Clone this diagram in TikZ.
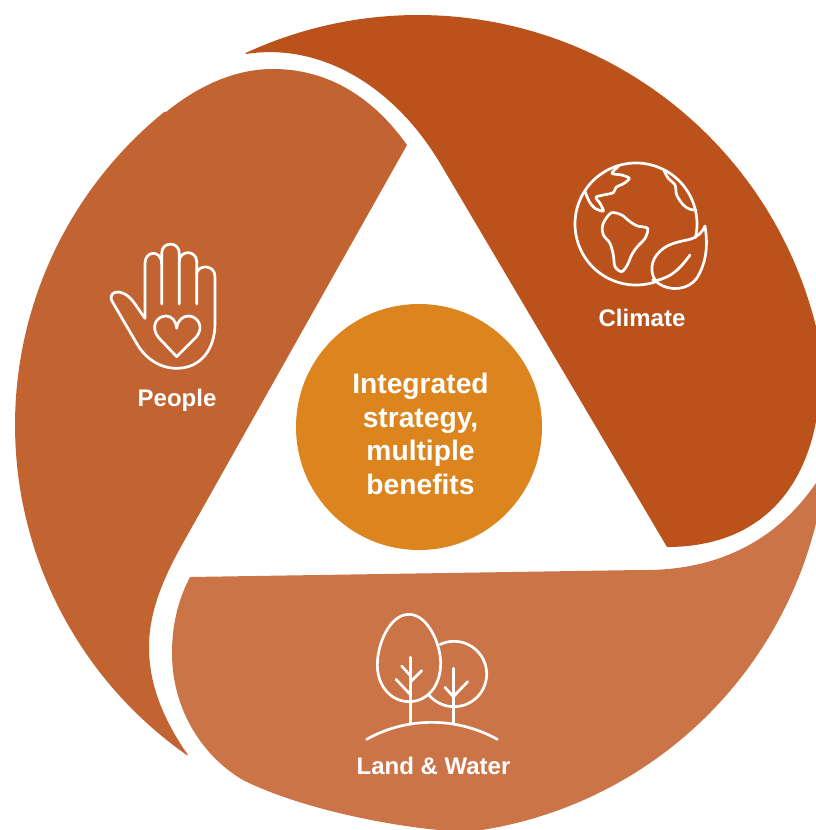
\documentclass[tikz,border=0pt]{standalone}
\usepackage{fontspec}
\setmainfont{Liberation Sans}
\definecolor{climatecol}{HTML}{BC521B}
\definecolor{peoplecol}{HTML}{C26332}
\definecolor{landcol}{HTML}{CB7448}
\definecolor{hubcol}{HTML}{DC841E}
\tikzset{
  icon/.style={draw=white,line width=2.7pt,line cap=round,line join=round},
  lab/.style={text=white,font=\bfseries\fontsize{24}{28}\selectfont,inner sep=0pt},
  hubtext/.style={text=white,font=\bfseries\fontsize{28.2}{33.5}\selectfont,align=center,inner sep=0pt},
  zoomed/.style={x=0.33333pt,y=-0.33333pt}
}
\begin{document}
\begin{tikzpicture}[x=1pt,y=-1pt]
\useasboundingbox (0,0) rectangle (816,830);
\clip (0,0) rectangle (816,830);
% Climate
\fill[climatecol] plot[domain=-114.9:-8,samples=90] ({418+410*cos(\x)},{425+410*sin(\x)})
  -- (835,368) -- (835,410) -- (818,410) .. controls (805,500) and (750,547) .. (667,547)
  -- (440,163) .. controls (390,80) and (315,43) .. (246,54) -- cycle;
% People
\fill[peoplecol] (407,145) .. controls (375,100) and (330,68) .. (270,69) .. controls (232,70) and (197,87) .. (166,112)
  -- plot[domain=231:125,samples=90] ({418+403*cos(\x)},{425+403*sin(\x)})
  -- (188,755) .. controls (160,715) and (149,680) .. (149,647) .. controls (149,610) and (165,575) .. (183,543) -- cycle;
% Land & Water
\fill[landcol] (190,577) -- (640,570) .. controls (700,571) and (768,553) .. (816,483) -- (835,462) -- (835,480)
  -- plot[domain=8:82.7,samples=70] ({418+410*cos(\x)},{425+410*sin(\x)})
  -- (470,832) .. controls (400,830) and (298,808) .. (243,780) .. controls (205,758) and (172,712) .. (172,653) .. controls (172,625) and (178,600) .. (190,577) -- cycle;
% Hub
\node[circle,fill=hubcol,minimum size=246pt,inner sep=0pt] (hub) at (419,427) {};
\node[hubtext] (hubtext) at (420.5,434) {Integrated\\strategy,\\multiple\\benefits};
% Labels
\node[lab] (climate) at (642,318) {Climate};
\node[lab] (people) at (177,400) {People};
\node[lab] (land) at (433.5,766) {Land \& Water};
% Globe and leaf
\begin{scope}[shift={(550,140)},zoomed]
\draw[icon] plot[domain=13:-290,samples=120] ({258+183*cos(\x)},{252+183*sin(\x)});
\draw[icon] plot[smooth] coordinates {(205,80)(186,100)(215,105)(238,115)(222,130)(198,142)(190,158)(160,165)(138,172)(150,190)(160,213)(135,205)(118,185)(105,155)};
\draw[icon] plot[smooth] coordinates {(342,92)(355,115)(375,135)(380,165)(400,195)(420,208)(438,210)};
\draw[icon] plot[smooth cycle] coordinates {(165,240)(185,218)(215,225)(240,245)(262,258)(293,265)(285,295)(262,320)(245,345)(232,375)(215,395)(195,380)(190,345)(180,310)(160,285)(157,260)};
\draw[icon] (465,258) .. controls (475,320) and (468,370) .. (440,415) .. controls (415,450) and (360,455) .. (325,430) .. controls (300,410) and (300,370) .. (320,345) .. controls (345,310) and (390,305) .. (420,298) .. controls (445,290) and (458,275) .. (465,258);
\draw[icon] (420,345) .. controls (395,380) and (370,405) .. (340,415) .. controls (330,420) and (318,422) .. (308,420);
\end{scope}
% Hand and heart
\begin{scope}[shift={(90,230)},zoomed]
\draw[icon] (165,265) -- (130,215) .. controls (110,190) and (90,183) .. (75,187) .. controls (62,192) and (60,205) .. (67,215) -- (140,340) .. controls (165,385) and (210,415) .. (260,415) .. controls (330,415) and (375,360) .. (375,280) -- (375,140) .. controls (375,103) and (325,103) .. (320,130);
\draw[icon] (165,265) -- (165,100) .. controls (165,60) and (215,60) .. (215,100);
\draw[icon] (215,222) -- (215,70) .. controls (215,33) and (268,33) .. (268,70) -- (268,222);
\draw[icon] (268,95) .. controls (268,59) and (320,59) .. (320,95) -- (320,222);
\draw[icon] (260,380) -- (205,322) .. controls (180,290) and (200,258) .. (228,258) .. controls (245,258) and (258,272) .. (260,295) .. controls (262,272) and (278,258) .. (295,258) .. controls (322,258) and (345,290) .. (318,322) -- cycle;
\end{scope}
% Trees
\begin{scope}[shift={(340,600)},zoomed]
\draw[icon] (207,43) .. controls (150,43) and (112,130) .. (112,195) .. controls (112,260) and (155,305) .. (207,305) .. controls (260,305) and (302,260) .. (302,190) .. controls (302,130) and (262,43) .. (207,43) -- cycle;
\draw[icon] plot[domain=-115:140,samples=80] ({342+98*cos(\x)},{222+98*sin(\x)});
\draw[icon] (212,172) -- (212,372);
\draw[icon] (185,198) -- (212,228);
\draw[icon] (245,212) -- (212,245);
\draw[icon] (168,238) -- (212,285);
\draw[icon] (340,205) -- (340,370);
\draw[icon] (315,262) -- (340,290);
\draw[icon] (383,245) -- (340,290);
\draw[icon] (80,418) .. controls (200,350) and (350,350) .. (472,418);
\end{scope}
\end{tikzpicture}
\end{document}
